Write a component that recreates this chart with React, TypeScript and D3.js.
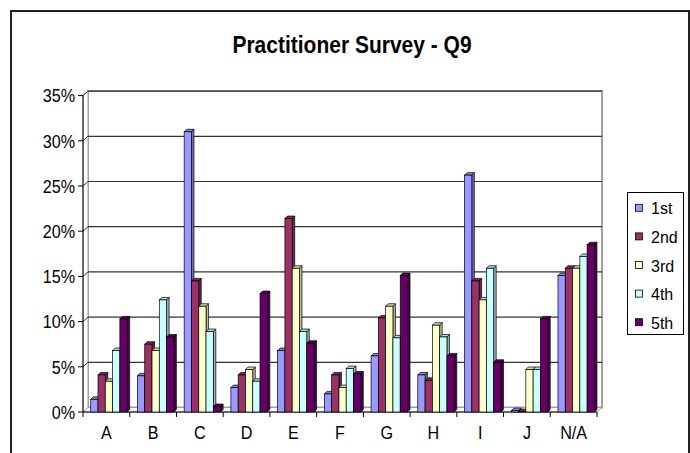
import React from 'react';
import * as d3 from 'd3';

const categories = ['A', 'B', 'C', 'D', 'E', 'F', 'G', 'H', 'I', 'J', 'N/A'];
const seriesNames = ['1st', '2nd', '3rd', '4th', '5th'];
const s1st = [1.4, 4.0, 31.0, 2.7, 6.8, 2.0, 6.2, 4.1, 26.2, 0.15, 15.1];
const s2nd = [4.1, 7.5, 14.5, 4.1, 21.4, 4.1, 10.4, 3.5, 14.5, 0.05, 15.9];
const s3rd = [3.4, 6.8, 11.7, 4.7, 15.9, 2.7, 11.7, 9.6, 12.4, 4.7, 15.9];
const s4th = [6.8, 12.4, 8.9, 3.4, 8.9, 4.8, 8.2, 8.3, 15.9, 4.7, 17.2];
const s5th = [10.3, 8.3, 0.6, 13.1, 7.6, 4.2, 15.1, 6.2, 5.5, 10.3, 18.5];
const seriesValues = [s1st, s2nd, s3rd, s4th, s5th];
const colors = ['#9999FF', '#993366', '#FFFFCC', '#CCFFFF', '#660066'];
const yTicks = [0, 5, 10, 15, 20, 25, 30, 35];
const title = 'Practitioner Survey - Q9';

const FONT = '"Liberation Sans", Arial, sans-serif';

export default function App() {
  const W = 690, H = 453;
  const left = 83, right = 597, bottom = 412, top = 95.6;
  const wdx = 5, wdy = -4.5; // wall depth offset
  const bd = 2.5; // bar depth

  const x0 = d3.scaleBand<string>().domain(categories).range([left, right]).paddingInner(0).paddingOuter(0);
  const cw = x0.bandwidth();
  const x1 = d3.scaleBand<string>().domain(seriesNames).range([cw * 0.165, cw * 0.165 + cw * 0.78]).padding(0);
  const bw = x1.bandwidth();
  const y = d3.scaleLinear().domain([0, 35]).range([bottom, top]);

  const bars: JSX.Element[] = [];
  categories.forEach((c, ci) => {
    seriesNames.forEach((s, si) => {
      const v = seriesValues[si][ci];
      const bx = (x0(c) as number) + (x1(s) as number);
      const by = y(v);
      const col = colors[si];
      const side = d3.color(col)!.darker(0.9).formatHex();
      const topc = d3.color(col)!.darker(0.45).formatHex();
      const topPts = [[bx, by], [bx + bd, by - bd], [bx + bw + bd, by - bd], [bx + bw, by]];
      const sidePts = [[bx + bw, by], [bx + bw + bd, by - bd], [bx + bw + bd, bottom - bd], [bx + bw, bottom]];
      bars.push(
        <g key={c + s}>
          <polygon points={sidePts.map(p => p.join(',')).join(' ')} fill={side} stroke="#000" strokeWidth={0.7} strokeLinejoin="round" />
          <polygon points={topPts.map(p => p.join(',')).join(' ')} fill={topc} stroke="#000" strokeWidth={0.7} strokeLinejoin="round" />
          <rect x={bx} y={by} width={bw} height={bottom - by} fill={col} stroke="#000" strokeWidth={0.7} />
        </g>
      );
    });
  });

  const legendY = d3.scaleBand<string>().domain(seriesNames).range([194, 337]);
  const stretch = 'scale(0.95,1.1)';

  return (
    <svg width={W} height={H} style={{ position: 'absolute', left: 0, top: 0, background: '#fff' }} fontFamily={FONT}>
      <rect x={0} y={0} width={W} height={H} fill="#fff" />
      <rect x={11} y={11} width={678} height={460} fill="none" stroke="#222" strokeWidth={2} />
      <text transform={`translate(352,53) scale(1,1.1)`} textAnchor="middle" fontSize={21} fontWeight="bold" fill="#000">{title}</text>

      {/* back wall */}
      <rect x={left + wdx} y={top + wdy} width={right - left} height={bottom - top} fill="#fff" stroke="#a0a0a0" strokeWidth={2} />
      {/* left wall */}
      <polygon points={`${left},${top} ${left + wdx},${top + wdy} ${left + wdx},${bottom + wdy} ${left},${bottom}`} fill="#fff" stroke="#a0a0a0" strokeWidth={1} />
      {/* floor */}
      <polygon points={`${left},${bottom} ${left + wdx},${bottom + wdy} ${right + wdx},${bottom + wdy} ${right},${bottom}`} fill="#fff" stroke="#a0a0a0" strokeWidth={1} />

      {/* gridlines */}
      {yTicks.filter(t => t > 0).map(t => (
        <g key={'g' + t}>
          <line x1={left + wdx} x2={right + wdx} y1={y(t) + wdy} y2={y(t) + wdy} stroke="#333" strokeWidth={1.2} />
          <line x1={left} x2={left + wdx} y1={y(t)} y2={y(t) + wdy} stroke="#333" strokeWidth={1} />
        </g>
      ))}

      {/* axes */}
      <line x1={left} x2={left} y1={top} y2={bottom} stroke="#000" strokeWidth={1} />
      <line x1={left} x2={right} y1={bottom} y2={bottom} stroke="#000" strokeWidth={1.2} />
      {yTicks.map(t => (
        <g key={'t' + t}>
          <line x1={left - 5} x2={left} y1={y(t)} y2={y(t)} stroke="#000" />
          <text transform={`translate(${left - 8},${y(t)}) ${stretch}`} dy="0.36em" textAnchor="end" fontSize={17} fill="#000">{t + '%'}</text>
        </g>
      ))}
      {categories.map(c => (
        <line key={'xt' + c} x1={x0(c)} x2={x0(c)} y1={bottom} y2={bottom + 5} stroke="#000" />
      ))}
      <line x1={right} x2={right} y1={bottom} y2={bottom + 5} stroke="#000" />
      {categories.map(c => (
        <text key={'xl' + c} transform={`translate(${(x0(c) as number) + cw / 2},438.5) ${stretch}`} textAnchor="middle" fontSize={17} fill="#000">{c}</text>
      ))}

      {bars}

      {/* legend */}
      <rect x={627.5} y={192.5} width={56} height={142} fill="#fff" stroke="#000" strokeWidth={1} />
      {seriesNames.map((s, i) => {
        const cy = (legendY(s) as number) + legendY.bandwidth() / 2;
        return (
          <g key={'lg' + s}>
            <rect x={635.5} y={cy - 4} width={7} height={7} fill={colors[i]} stroke="#000" strokeWidth={0.8} />
            <text transform={`translate(651,${cy}) scale(1,1.05)`} dy="0.36em" fontSize={16} fill="#000">{s}</text>
          </g>
        );
      })}
    </svg>
  );
}
